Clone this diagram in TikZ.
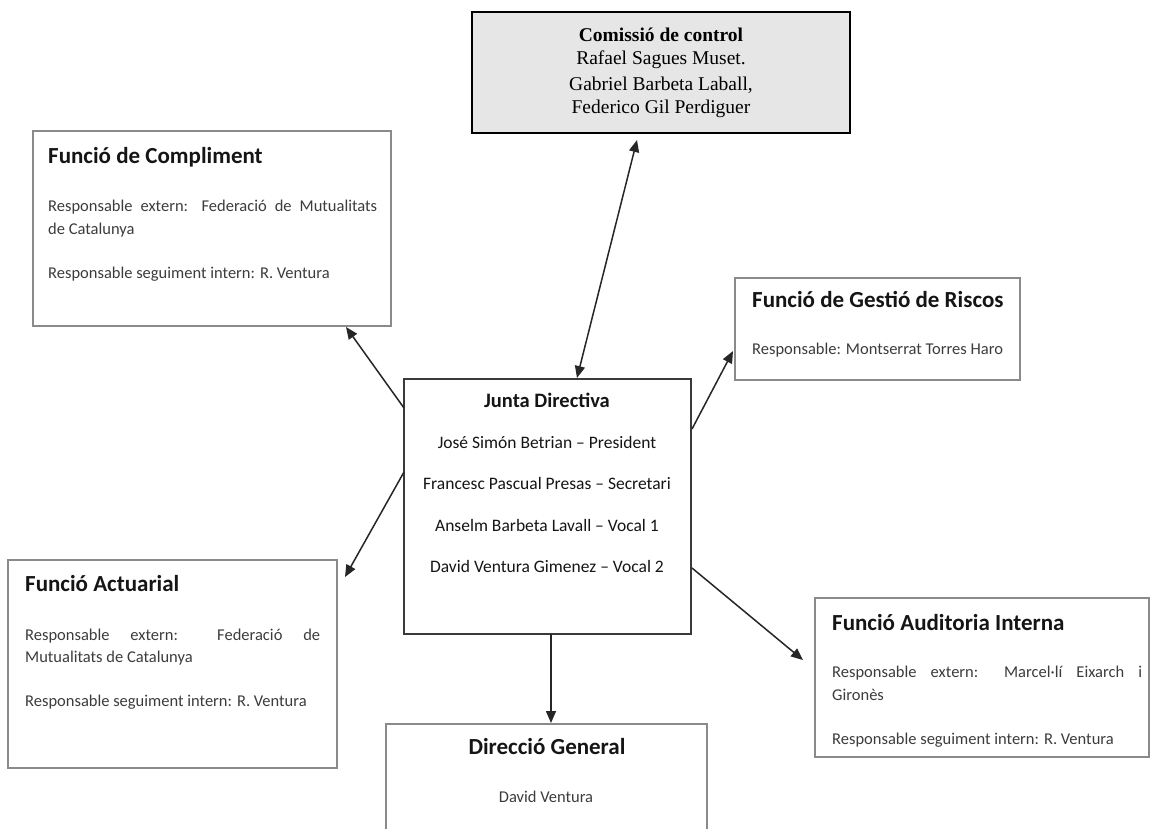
\documentclass[tikz,border=0pt]{standalone}
\usepackage{fontspec}
\setmainfont{Carlito}
\newfontfamily\timesfont{Liberation Serif}
\usetikzlibrary{arrows.meta,calc}
\definecolor{boxgray}{HTML}{8A8A8A}
\definecolor{boxdark}{HTML}{3A3A3A}
\definecolor{txtbody}{HTML}{3C3C3C}
\definecolor{txttitle}{HTML}{151515}
\definecolor{comfill}{HTML}{E6E6E6}
\definecolor{arrowc}{HTML}{262626}
\begin{document}
\begin{tikzpicture}[x=1pt,y=-1pt,
  gbox/.style={draw=boxgray, line width=1.6pt, fill=white, rectangle, inner sep=0pt, outer sep=0pt, anchor=north west},
  jbox/.style={draw=boxdark, line width=1.4pt, fill=white, rectangle, inner sep=0pt, outer sep=0pt, anchor=north west},
  cbox/.style={draw=black, line width=1.8pt, fill=comfill, rectangle, inner sep=0pt, outer sep=0pt, anchor=north west},
  ttl/.style={inner sep=0pt, text=txttitle, font=\bfseries\fontsize{23}{27}\selectfont},
  jttl/.style={inner sep=0pt, text=txttitle, font=\bfseries\fontsize{20.5}{24}\selectfont},
  bodytxt/.style={inner sep=0pt, text=txtbody, font=\fontsize{16.5}{20}\selectfont},
  jbody/.style={inner sep=0pt, text=txttitle, font=\fontsize{17.5}{21}\selectfont},
  comtxt/.style={inner sep=0pt, text=black, font=\timesfont\fontsize{19.5}{23}\selectfont},
  arr/.style={draw=arrowc, line width=1.5pt, -{Triangle[length=12pt,width=10pt]}},
  darr/.style={draw=arrowc, line width=1.5pt, {Triangle[length=12pt,width=10pt]}-{Triangle[length=12pt,width=10pt]}}
]
\useasboundingbox (0,0) rectangle (1151,828);
\fill[white] (0,0) rectangle (1151,828);

% boxes
\node[cbox, minimum width=378pt, minimum height=121pt] (com) at (472,12) {};
\node[gbox, minimum width=358pt, minimum height=195pt] (compl) at (33,131) {};
\node[gbox, minimum width=285pt, minimum height=102pt] (gest) at (735,278) {};
\node[jbox, minimum width=287pt, minimum height=255pt] (junta) at (404,379) {};
\node[gbox, minimum width=329pt, minimum height=208pt] (act) at (8,560) {};
\node[gbox, minimum width=334pt, minimum height=159pt] (aud) at (815,598) {};
\node[gbox, minimum width=321pt, minimum height=140pt] (dir) at (386,724) {};

% Comissió de control
\node[comtxt, font=\timesfont\bfseries\fontsize{19.5}{23}\selectfont] (comT) at (661,35) {Comissió de control};
\node[comtxt] (comL1) at (661,60) {Rafael Sagues Muset.};
\node[comtxt] (comL2) at (661,85) {Gabriel Barbeta Laball,};
\node[comtxt] (comL3) at (661,109) {Federico Gil Perdiguer};

% Funció de Compliment
\node[ttl, anchor=west] (complT) at (48,157) {Funció de Compliment};
\node[bodytxt, anchor=west] (complL1) at (48,207) {\makebox[329pt][s]{Responsable extern: Federació de Mutualitats}};
\node[bodytxt, anchor=west] (complL2) at (48,230) {de Catalunya};
\node[bodytxt, anchor=west] (complL3) at (48,274) {Responsable seguiment intern: R. Ventura};

% Funció de Gestió de Riscos
\node[ttl, anchor=west] (gestT) at (752,299) {Funció de Gestió de Riscos};
\node[bodytxt, anchor=west] (gestL1) at (752,350) {Responsable: Montserrat Torres Haro};

% Junta Directiva
\node[jttl] (juntaT) at (547,400) {Junta Directiva};
\node[jbody] (juntaL1) at (547,442) {José Simón Betrian – President};
\node[jbody] (juntaL2) at (547,483) {Francesc Pascual Presas – Secretari};
\node[jbody] (juntaL3) at (547,525) {Anselm Barbeta Lavall – Vocal 1};
\node[jbody] (juntaL4) at (547,566) {David Ventura Gimenez – Vocal 2};

% Funció Actuarial
\node[ttl, anchor=west] (actT) at (25,584) {Funció Actuarial};
\node[bodytxt, anchor=west] (actL1) at (25,636) {\makebox[295pt][s]{Responsable extern: Federació de}};
\node[bodytxt, anchor=west] (actL2) at (25,658) {Mutualitats de Catalunya};
\node[bodytxt, anchor=west] (actL3) at (25,702) {Responsable seguiment intern: R. Ventura};

% Funció Auditoria Interna
\node[ttl, anchor=west] (audT) at (832,623) {Funció Auditoria Interna};
\node[bodytxt, anchor=west] (audL1) at (832,673) {\makebox[310pt][s]{Responsable extern: Marcel·lí Eixarch i}};
\node[bodytxt, anchor=west] (audL2) at (832,695) {Gironès};
\node[bodytxt, anchor=west] (audL3) at (832,740) {Responsable seguiment intern: R. Ventura};

% Direcció General
\node[ttl] (dirT) at (547,747) {Direcció General};
\node[bodytxt] (dirL1) at (546,797) {David Ventura};

% connectors
\draw[darr] ($(com.south west)+(165,7)$) -- ($(junta.north west)+(173,-1)$);
\draw[arr] ($(junta.north west)+(0,29)$) -- ($(compl.south east)+(-45,1)$);
\draw[arr] ($(junta.north west)+(0,93)$) -- ($(act.north east)+(8,17)$);
\draw[arr] ($(junta.north east)+(1,50)$) -- ($(gest.north west)+(-2,73)$);
\draw[arr] ($(junta.north east)+(1,189)$) -- ($(aud.north west)+(-12,62)$);
\draw[arr] ($(junta.south west)+(147,0)$) -- ($(dir.north west)+(165,-1)$);
\end{tikzpicture}
\end{document}
